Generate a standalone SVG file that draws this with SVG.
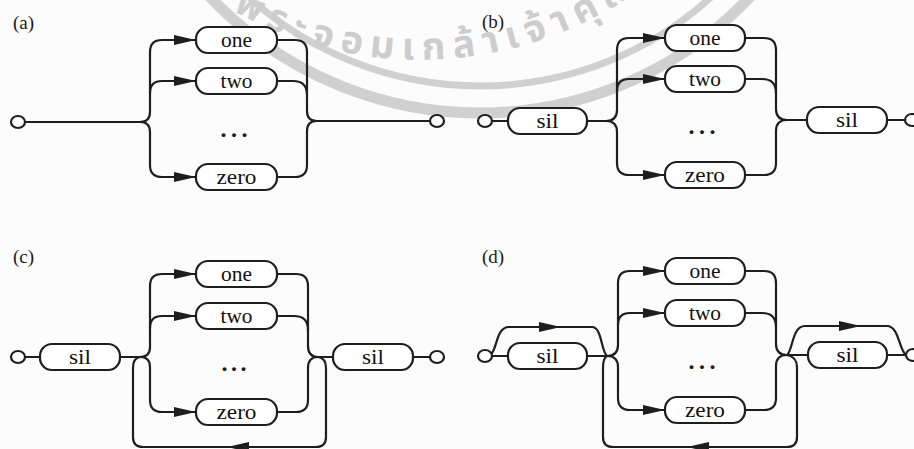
<svg xmlns="http://www.w3.org/2000/svg" xmlns:xlink="http://www.w3.org/1999/xlink" width="914" height="449" viewBox="0 0 914 449">
<style>
.ln{fill:none;stroke:#1e1e1e;stroke-width:2.2;stroke-linecap:round;stroke-linejoin:round}
.box{fill:#fff;stroke:#1e1e1e;stroke-width:2.2}
.term{fill:#fff;stroke:#1e1e1e;stroke-width:2.2}
.lbl{font-family:"Liberation Serif","Times New Roman",serif;font-size:22px;fill:#111;text-anchor:middle}
.tag{font-family:"Liberation Serif","Times New Roman",serif;font-size:19px;fill:#1a1a1a}
.dots{font-family:"Liberation Serif","Times New Roman",serif;font-size:24px;font-weight:bold;fill:#1a1a1a;text-anchor:middle}
.wm{fill:none;stroke:#d0d0d0}
.wmt{font-family:"Noto Sans Thai","Noto Serif Thai","Loma","Garuda","Tlwg Typo","DejaVu Sans",sans-serif;font-size:38px;font-weight:bold;fill:#cdcdcd;letter-spacing:8px}
</style>
<defs>
<path id="ah" d="M0,0 L-22,-5 L-22,5 Z" fill="#1e1e1e"/>
<path id="wmarc" d="M63,-190 A380,380 0 0 0 777,-190"/>
</defs>
<rect width="914" height="449" fill="#fcfcfc"/>
<g id="watermark">
<circle class="wm" cx="480" cy="-259" r="372" stroke-width="11"/>
<circle class="wm" cx="480" cy="-259" r="345" stroke-width="7"/>
<text class="wmt"><textPath xlink:href="#wmarc" startOffset="268">พระจอมเกล้าเจ้าคุณทหาร</textPath></text>
</g>
<text class="tag" x="13" y="29">(a)</text>
<text class="tag" x="482" y="28">(b)</text>
<text class="tag" x="13" y="263">(c)</text>
<text class="tag" x="482" y="263">(d)</text>
<g id="connectors">
<!-- panel a -->
<path class="ln" d="M25,122 L140,122"/>
<path class="ln" d="M140,122 Q150,122 150,112 L150,52 Q150,40 162,40 L196,40"/>
<path class="ln" d="M150,93 Q150,81 162,81 L196,81"/>
<path class="ln" d="M140,122 Q150,122 150,132 L150,165 Q150,177 162,177 L196,177"/>
<path class="ln" d="M277,40 L295,40 Q307,40 307,52 L307,111 Q307,121 317,121"/>
<path class="ln" d="M277,81 L293,81 Q307,81 307,95"/>
<path class="ln" d="M277,177 L295,177 Q307,177 307,165 L307,131 Q307,121 317,121"/>
<path class="ln" d="M317,121 L430,121"/>
<use xlink:href="#ah" transform="translate(196,40)"/>
<use xlink:href="#ah" transform="translate(196,81)"/>
<use xlink:href="#ah" transform="translate(196,177)"/>
<!-- panel b -->
<path class="ln" d="M492,121 L508,121"/>
<path class="ln" d="M587,121 L606,121"/>
<path class="ln" d="M606,121 Q617,121 617,110 L617,50 Q617,38 629,38 L665,38"/>
<path class="ln" d="M617,91 Q617,79 629,79 L665,79"/>
<path class="ln" d="M606,121 Q617,121 617,132 L617,163 Q617,175 629,175 L665,175"/>
<path class="ln" d="M745,38 L764,38 Q776,38 776,50 L776,109 Q776,120 787,120"/>
<path class="ln" d="M745,79 L762,79 Q776,79 776,93"/>
<path class="ln" d="M745,175 L764,175 Q776,175 776,163 L776,131 Q776,120 787,120"/>
<path class="ln" d="M787,120 L807,120"/>
<path class="ln" d="M887,120 L905,120"/>
<use xlink:href="#ah" transform="translate(665,38)"/>
<use xlink:href="#ah" transform="translate(665,79)"/>
<use xlink:href="#ah" transform="translate(665,175)"/>
<!-- panel c -->
<path class="ln" d="M25,357 L40,357"/>
<path class="ln" d="M120,357 L140,357"/>
<path class="ln" d="M140,357 Q150,357 150,347 L150,286 Q150,274 162,274 L196,274"/>
<path class="ln" d="M150,328 Q150,316 162,316 L196,316"/>
<path class="ln" d="M140,357 Q150,357 150,367 L150,400 Q150,412 162,412 L196,412"/>
<path class="ln" d="M277,274 L296,274 Q308,274 308,286 L308,346 Q308,357 318,357"/>
<path class="ln" d="M277,316 L294,316 Q308,316 308,330"/>
<path class="ln" d="M277,412 L296,412 Q308,412 308,400 L308,368 Q308,357 318,357"/>
<path class="ln" d="M318,357 L333,357"/>
<path class="ln" d="M413,357 L430,357"/>
<path class="ln" d="M318,357 Q326,358 326,368 L326,437 Q326,447 316,447 L143,447 Q133,447 133,437 L133,368 Q133,358 140,357"/>
<use xlink:href="#ah" transform="translate(196,274)"/>
<use xlink:href="#ah" transform="translate(196,316)"/>
<use xlink:href="#ah" transform="translate(196,412)"/>
<use xlink:href="#ah" transform="translate(227,447) scale(-1,1)"/>
<!-- panel d -->
<path class="ln" d="M492,356 L508,356"/>
<path class="ln" d="M491,354 C497,350 496,327 509,327 L592,327 C602,327 601,351 607,356"/>
<path class="ln" d="M587,356 L607,356"/>
<path class="ln" d="M607,356 Q618,356 618,345 L618,283 Q618,271 630,271 L665,271"/>
<path class="ln" d="M618,325 Q618,313 630,313 L665,313"/>
<path class="ln" d="M607,356 Q618,356 618,367 L618,398 Q618,410 630,410 L665,410"/>
<path class="ln" d="M745,271 L764,271 Q776,271 776,283 L776,344 Q776,355 787,355"/>
<path class="ln" d="M745,313 L762,313 Q776,313 776,327"/>
<path class="ln" d="M745,410 L764,410 Q776,410 776,398 L776,366 Q776,355 787,355"/>
<path class="ln" d="M787,355 L808,355"/>
<path class="ln" d="M887,355 L906,355"/>
<path class="ln" d="M787,355 C793,350 792,326 805,326 L887,326 C899,326 899,350 906,355"/>
<path class="ln" d="M787,355 Q797,357 797,367 L797,437 Q797,447 787,447 L613,447 Q603,447 603,437 L603,368 Q603,358 607,356"/>
<use xlink:href="#ah" transform="translate(561,327)"/>
<use xlink:href="#ah" transform="translate(861,326)"/>
<use xlink:href="#ah" transform="translate(665,271)"/>
<use xlink:href="#ah" transform="translate(665,313)"/>
<use xlink:href="#ah" transform="translate(665,410)"/>
<use xlink:href="#ah" transform="translate(687,447) scale(-1,1)"/>
</g>
<!-- panel a nodes -->
<g id="a-start"><ellipse class="term" cx="18" cy="122" rx="7" ry="6"/></g>
<g id="a-one"><rect class="box" x="196" y="27" width="81" height="26" rx="12"/><text class="lbl" x="236.5" y="47" textLength="31" lengthAdjust="spacingAndGlyphs">one</text></g>
<g id="a-two"><rect class="box" x="196" y="68" width="81" height="26" rx="12"/><text class="lbl" x="236.5" y="88" textLength="32" lengthAdjust="spacingAndGlyphs">two</text></g>
<g id="a-dots"><text class="dots" x="234" y="137" textLength="27" lengthAdjust="spacing">...</text></g>
<g id="a-zero"><rect class="box" x="196" y="164" width="81" height="26" rx="12"/><text class="lbl" x="236.5" y="184" textLength="40" lengthAdjust="spacingAndGlyphs">zero</text></g>
<g id="a-end"><ellipse class="term" cx="437" cy="121" rx="7" ry="6"/></g>
<!-- panel b nodes -->
<g id="b-start"><ellipse class="term" cx="485" cy="121" rx="7" ry="6"/></g>
<g id="b-sil1"><rect class="box" x="508" y="108" width="79" height="26" rx="12"/><text class="lbl" x="547.5" y="128" textLength="22" lengthAdjust="spacingAndGlyphs">sil</text></g>
<g id="b-one"><rect class="box" x="665" y="25" width="80" height="26" rx="12"/><text class="lbl" x="705" y="45" textLength="31" lengthAdjust="spacingAndGlyphs">one</text></g>
<g id="b-two"><rect class="box" x="665" y="66" width="80" height="26" rx="12"/><text class="lbl" x="705" y="86" textLength="32" lengthAdjust="spacingAndGlyphs">two</text></g>
<g id="b-dots"><text class="dots" x="702" y="134" textLength="27" lengthAdjust="spacing">...</text></g>
<g id="b-zero"><rect class="box" x="665" y="162" width="80" height="26" rx="12"/><text class="lbl" x="705" y="182" textLength="40" lengthAdjust="spacingAndGlyphs">zero</text></g>
<g id="b-sil2"><rect class="box" x="807" y="107" width="80" height="26" rx="12"/><text class="lbl" x="847" y="127" textLength="22" lengthAdjust="spacingAndGlyphs">sil</text></g>
<g id="b-end"><ellipse class="term" cx="912" cy="120" rx="7" ry="6"/></g>
<!-- panel c nodes -->
<g id="c-start"><ellipse class="term" cx="18" cy="357" rx="7" ry="6"/></g>
<g id="c-sil1"><rect class="box" x="40" y="344" width="80" height="26" rx="12"/><text class="lbl" x="80" y="364" textLength="22" lengthAdjust="spacingAndGlyphs">sil</text></g>
<g id="c-one"><rect class="box" x="196" y="261" width="81" height="26" rx="12"/><text class="lbl" x="236.5" y="281" textLength="31" lengthAdjust="spacingAndGlyphs">one</text></g>
<g id="c-two"><rect class="box" x="196" y="303" width="81" height="26" rx="12"/><text class="lbl" x="236.5" y="323" textLength="32" lengthAdjust="spacingAndGlyphs">two</text></g>
<g id="c-dots"><text class="dots" x="234" y="371" textLength="25" lengthAdjust="spacing">...</text></g>
<g id="c-zero"><rect class="box" x="196" y="399" width="81" height="26" rx="12"/><text class="lbl" x="236.5" y="419" textLength="40" lengthAdjust="spacingAndGlyphs">zero</text></g>
<g id="c-sil2"><rect class="box" x="333" y="344" width="80" height="26" rx="12"/><text class="lbl" x="373" y="364" textLength="22" lengthAdjust="spacingAndGlyphs">sil</text></g>
<g id="c-end"><ellipse class="term" cx="437" cy="357" rx="7" ry="6"/></g>
<!-- panel d nodes -->
<g id="d-start"><ellipse class="term" cx="485" cy="356" rx="7" ry="6"/></g>
<g id="d-sil1"><rect class="box" x="508" y="343" width="79" height="26" rx="12"/><text class="lbl" x="547.5" y="363" textLength="22" lengthAdjust="spacingAndGlyphs">sil</text></g>
<g id="d-one"><rect class="box" x="665" y="258" width="80" height="26" rx="12"/><text class="lbl" x="705" y="278" textLength="31" lengthAdjust="spacingAndGlyphs">one</text></g>
<g id="d-two"><rect class="box" x="665" y="300" width="80" height="26" rx="12"/><text class="lbl" x="705" y="320" textLength="32" lengthAdjust="spacingAndGlyphs">two</text></g>
<g id="d-dots"><text class="dots" x="702" y="369" textLength="27" lengthAdjust="spacing">...</text></g>
<g id="d-zero"><rect class="box" x="665" y="397" width="80" height="26" rx="12"/><text class="lbl" x="705" y="417" textLength="40" lengthAdjust="spacingAndGlyphs">zero</text></g>
<g id="d-sil2"><rect class="box" x="808" y="342" width="79" height="26" rx="12"/><text class="lbl" x="847.5" y="362" textLength="22" lengthAdjust="spacingAndGlyphs">sil</text></g>
<g id="d-end"><ellipse class="term" cx="913" cy="355" rx="7" ry="6"/></g>
</svg>
